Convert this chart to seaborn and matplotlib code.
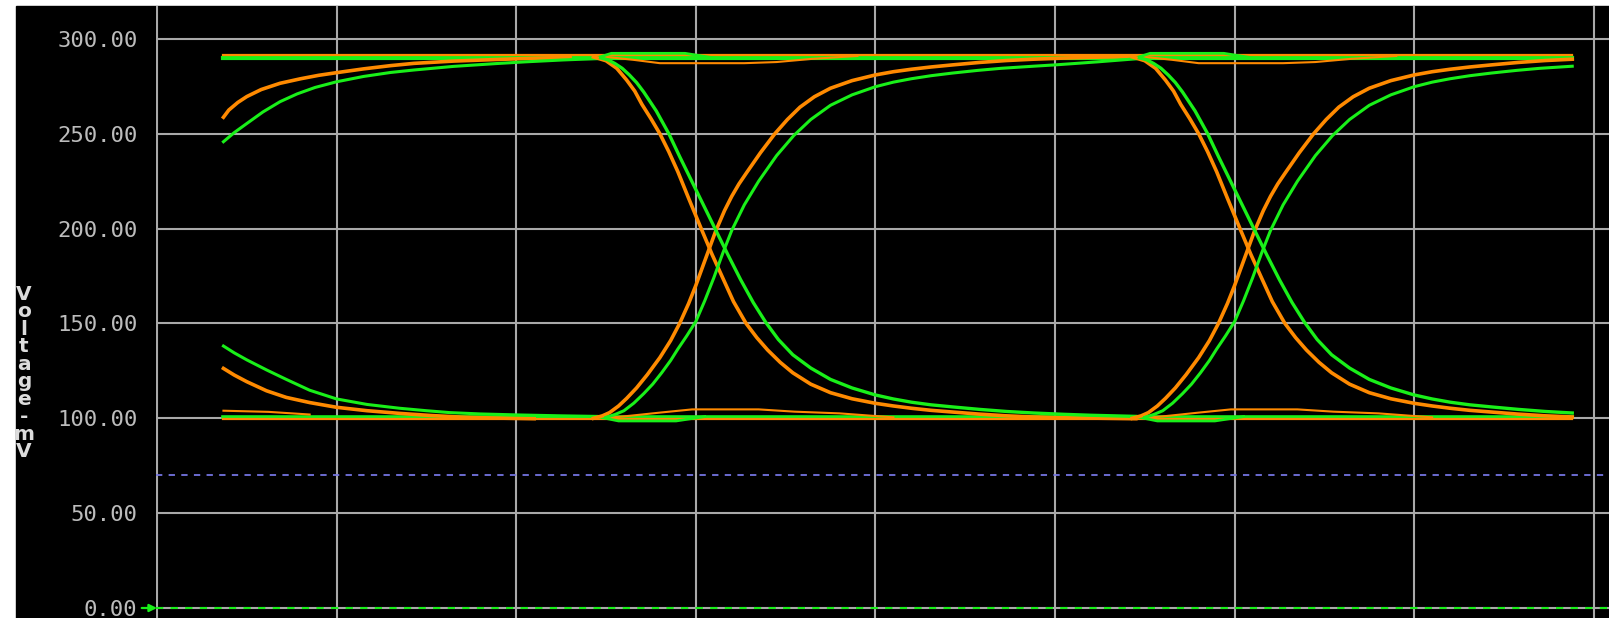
import numpy as np
import matplotlib
matplotlib.use('Agg')
import matplotlib.pyplot as plt
from matplotlib.patches import Rectangle
import seaborn as sns

# x axis is in grid divisions, y in mV
window = [0.37, 7.88]
ui_shifts = [0.0, 3.0]

# flat levels
orange_hi, green_hi = 291.5, 290.0
orange_lo, green_lo = 99.8, 100.9

# edges of the first unit interval (repeated one UI later)
of_t = [2.43, 2.50, 2.56, 2.615, 2.66, 2.70, 2.75, 2.80, 2.85, 2.90, 2.96, 3.03, 3.09, 3.15, 3.21, 3.28,
        3.34, 3.40, 3.47, 3.54, 3.64, 3.75, 3.87, 4.00, 4.10, 4.20, 4.31, 4.43, 4.58, 4.73, 4.88, 5.05, 5.20, 5.45]
of_v = [290.5, 288.5, 284.5, 278.3, 272.5, 265.5, 258, 250, 240.5, 230, 216, 200, 186.5, 174, 161.5, 150,
        142.5, 136, 129.5, 124, 118, 113.5, 110.3, 107.9, 106.5, 105.3, 104.2, 103.3, 102.2, 101.3, 100.7, 100.3, 100.1, 99.8]
or_t = [2.43, 2.48, 2.52, 2.57, 2.615, 2.67, 2.73, 2.80, 2.86, 2.91, 2.96, 3.00, 3.05, 3.11, 3.16, 3.20, 3.24,
        3.283, 3.36, 3.44, 3.51, 3.58, 3.66, 3.75, 3.87, 4.00, 4.10, 4.20, 4.31, 4.43, 4.58, 4.73, 4.88, 5.05, 5.20, 5.45]
or_v = [100, 101.3, 103, 106.5, 110.5, 116, 123, 132, 141, 150, 160.5, 170, 183, 198.5, 209.5, 217, 223.5,
        229.5, 240, 250, 257.5, 264, 269.5, 274, 278, 281, 282.7, 284, 285.2, 286.3, 287.6, 288.6, 289.3, 289.9, 290.3, 290.8]
gf_t = [2.47, 2.51, 2.55, 2.59, 2.63, 2.67, 2.71, 2.78, 2.85, 2.91, 2.98, 3.05, 3.12, 3.18, 3.25, 3.32, 3.39,
        3.46, 3.54, 3.64, 3.75, 3.87, 4.00, 4.10, 4.20, 4.31, 4.43, 4.58, 4.73, 4.88, 5.05, 5.20, 5.45]
gf_v = [290, 289, 287, 284.5, 281, 277, 272, 262, 250, 238, 224.5, 211, 197.5, 186, 173, 161, 150.5,
        141.5, 133.5, 126.5, 120.5, 116, 112.3, 110.2, 108.5, 107.1, 106, 104.7, 103.6, 102.8, 102.1, 101.6, 101]
gr_t = [2.50, 2.55, 2.60, 2.655, 2.71, 2.76, 2.81, 2.86, 2.90, 2.95, 3.00, 3.05, 3.10, 3.15, 3.20, 3.27, 3.35,
        3.45, 3.545, 3.64, 3.75, 3.87, 4.00, 4.10, 4.20, 4.31, 4.43, 4.57, 4.70, 4.88, 5.00, 5.12, 5.25, 5.45]
gr_v = [100.5, 102, 104, 108, 113, 118, 124, 130.5, 136.5, 143.5, 151, 162, 174, 187, 199, 212.5, 225,
        238.5, 249, 257.5, 265, 270.5, 274.8, 277.2, 279, 280.6, 282, 283.4, 284.5, 285.6, 286.3, 287.1, 288, 289.5]

# small ripples on the steady traces
o_dip_t = [2.45, 2.65, 2.80, 3.27, 3.45, 3.65, 3.90]
o_dip_v = [291, 289, 287.2, 287.2, 287.8, 289.5, 291]
o_bump_t = [2.45, 2.60, 2.80, 2.98, 3.35, 3.55, 3.80, 4.10]
o_bump_v = [99.8, 101, 103, 104.7, 104.7, 103.5, 102.6, 100.5]
g_bump_t = [2.45, 2.53, 2.94, 3.10]
g_bump_v = [290, 292.4, 292.4, 290]
g_dip_t = [2.45, 2.57, 2.89, 3.05]
g_dip_v = [100.9, 98.6, 98.6, 100.9]

# tails of the transitions before the window
o_rise_tail_t = [0.37, 0.40, 0.45, 0.50, 0.58, 0.685, 0.80, 0.90, 1.00, 1.15, 1.30, 1.43, 1.65, 1.91, 2.10, 2.30]
o_rise_tail_v = [258.7, 262.5, 266.5, 269.6, 273.3, 276.6, 279, 280.8, 282.2, 284.2, 285.9, 287.1, 288.3, 289.2, 289.8, 290.3]
g_rise_tail_t = [0.37, 0.43, 0.50, 0.59, 0.685, 0.78, 0.88, 1.00, 1.15, 1.30, 1.43, 1.65, 1.89, 2.05, 2.26, 2.45]
g_rise_tail_v = [245.8, 250.6, 255.4, 261.5, 266.9, 271, 274.4, 277.4, 280.2, 282.3, 283.6, 285.5, 287, 287.9, 288.9, 289.6]
o_fall_tail_t = [0.37, 0.43, 0.50, 0.61, 0.72, 0.85, 1.00, 1.17, 1.35, 1.52, 1.72, 1.90, 2.10]
o_fall_tail_v = [126.3, 122.8, 119.3, 114.5, 111, 108.3, 105.8, 104, 102.6, 101.5, 100.5, 100.1, 99.8]
g_fall_tail_t = [0.37, 0.43, 0.50, 0.61, 0.72, 0.85, 1.00, 1.17, 1.35, 1.50, 1.63, 1.80, 2.00, 2.25, 2.45]
g_fall_tail_v = [138.1, 134.5, 130.8, 125.5, 120.5, 114.8, 110.2, 107.3, 105.3, 104, 103, 102.3, 101.8, 101.3, 101]
o_bump_tail_t = [0.37, 0.62, 0.85]
o_bump_tail_v = [104, 103.4, 102]

threshold = 70
yticks = [0, 50, 100, 150, 200, 250, 300]

ORANGE = '#ff8a00'
GREEN = '#19f019'
GRID = '#a9a9a9'

fig = plt.figure(figsize=(16.09, 6.18), dpi=100, facecolor='white')
fig.patches.append(Rectangle((16 / 1609, 0), 1 - 16 / 1609, 612 / 618,
                             transform=fig.transFigure, color='black', zorder=-10))
ax = fig.add_axes([155.5 / 1609, 0, 1 - 155.5 / 1609, 612 / 618])
ax.set_facecolor('black')

px = 179.6  # pixels per division
x0 = -1.5 / px
ax.set_xlim(x0, x0 + 1453.5 / px)
ax.set_ylim(-10 / 1.897, 602 / 1.897)

ax.set_xticks(range(0, 9))
ax.set_yticks(yticks)
ax.set_xticklabels([])
ax.set_yticklabels([f'{v:.2f}' for v in yticks], family='DejaVu Sans Mono',
                   fontsize=16, color='#bcbcbc')
ax.tick_params(length=0)
ax.tick_params(axis='y', pad=13)
ax.grid(True, color=GRID, lw=1.5)
ax.set_axisbelow(True)
for s in ax.spines.values():
    s.set_visible(False)

ax.axhline(threshold, color='#7474e0', lw=1.3, dashes=(3.5, 3.5))
ax.axhline(0, color=GREEN, lw=1.5, dashes=(3.5, 3.5), zorder=3)
ax.annotate('', xy=(0, 0), xytext=(-11, 0), textcoords='offset points',
            arrowprops=dict(arrowstyle='-|>', color=GREEN, lw=1.6, mutation_scale=11,
                            shrinkA=0, shrinkB=0),
            annotation_clip=False)


def trace(t, v, color, lw, shift=0.0):
    t = np.asarray(t) + shift
    v = np.asarray(v)
    keep = t <= window[1] + 1e-9
    sns.lineplot(x=t[keep], y=v[keep], color=color, lw=lw, ax=ax,
                 estimator=None, sort=False, legend=False)


# steady levels
trace(window, [green_hi, green_hi], GREEN, 3.0)
trace(window, [green_lo, green_lo], GREEN, 2.6)
trace(window, [orange_hi, orange_hi], ORANGE, 1.6)
trace(window, [orange_lo, orange_lo], ORANGE, 1.6)

# start tails
trace(o_rise_tail_t, o_rise_tail_v, ORANGE, 2.6)
trace(o_fall_tail_t, o_fall_tail_v, ORANGE, 2.6)
trace(o_bump_tail_t, o_bump_tail_v, ORANGE, 1.5)
trace(g_rise_tail_t, g_rise_tail_v, GREEN, 2.2)
trace(g_fall_tail_t, g_fall_tail_v, GREEN, 2.2)

for sh in ui_shifts:
    trace(o_dip_t, o_dip_v, ORANGE, 1.5, sh)
    trace(o_bump_t, o_bump_v, ORANGE, 1.5, sh)
    trace(g_bump_t, g_bump_v, GREEN, 2.0, sh)
    trace(g_dip_t, g_dip_v, GREEN, 2.0, sh)
    trace(of_t, of_v, ORANGE, 2.6, sh)
    trace(or_t, or_v, ORANGE, 2.6, sh)
    trace(gf_t, gf_v, GREEN, 2.4, sh)
    trace(gr_t, gr_v, GREEN, 2.2, sh)

ax.set_xlabel('')
ax.set_ylabel('')
fig.text(24 / 1609, 1 - 373 / 618, '\n'.join('Voltage-mV'), ha='center', va='center',
         fontsize=14.5, fontweight='bold', color='#dcdcdc', linespacing=0.9,
         family='DejaVu Sans')

fig.savefig('out.png', dpi=100, facecolor=fig.get_facecolor())
